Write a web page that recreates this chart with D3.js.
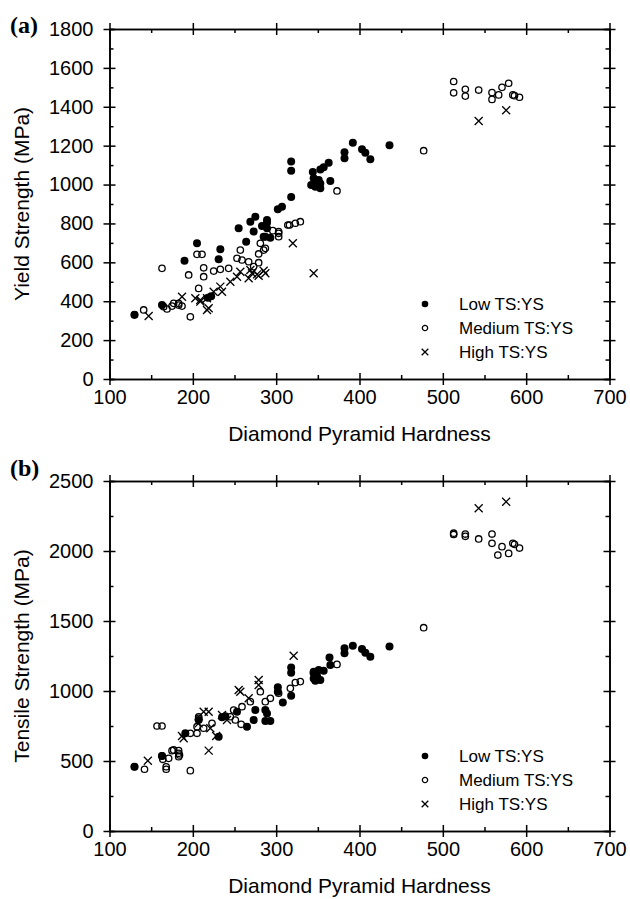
<!DOCTYPE html>
<html>
<head>
<meta charset="utf-8">
<script src="https://cdn.jsdelivr.net/npm/d3@7"></script>
<style>
body { margin: 0; background: #fff; }
text { font-family: "Liberation Sans", Arial, sans-serif; fill: #000; }
</style>
</head>
<body>
<div id="plot"></div>
<script>
// Hardness axis, shared by both panels.
var hardnessTicks = [100, 200, 300, 400, 500, 600, 700];
var hardnessMinor = [150, 250, 350, 450, 550, 650];

// Panel (a): yield strength.
var ysTicks = [0, 200, 400, 600, 800, 1000, 1200, 1400, 1600, 1800];
var ysMinor = [100, 300, 500, 700, 900, 1100, 1300, 1500, 1700];
var ysLow = [[130,330],[163,380],[190,608],[205,698],[218,418],[222,425],[231,616],[233,667],[255,775],[264,706],[269,809],[273,758],[275,835],[283,787],[285,732],[287,732],[289,818],[289,775],[289,804],[293,727],[302,873],[307,886],[318,936],[318,1071],[318,1118],[342,998],[344,1065],[345,1032],[347,989],[349,1003],[351,1023],[353,1006],[353,981],[353,1078],[357,1089],[363,1112],[365,1018],[382,1135],[382,1166],[392,1215],[403,1181],[407,1164],[413,1130],[436,1202]];
var ysMedium = [[130,330],[141,355],[165,372],[169,360],[175,375],[177,389],[183,389],[183,380],[187,375],[163,569],[197,320],[195,535],[205,641],[207,466],[211,641],[213,572],[213,526],[225,555],[233,564],[243,569],[253,621],[257,663],[259,612],[267,603],[273,578],[279,598],[279,643],[281,698],[285,663],[287,672],[296,763],[303,749],[303,732],[303,758],[314,792],[316,792],[323,801],[329,809],[373,967],[477,1174],[513,1530],[513,1472],[527,1490],[527,1455],[543,1486],[559,1473],[559,1438],[567,1461],[571,1500],[579,1521],[584,1461],[586,1457],[592,1449]];
var ysHigh = [[147,324],[187,423],[203,415],[209,398],[209,406],[217,415],[217,355],[219,364],[225,449],[233,475],[235,449],[245,500],[253,526],[257,552],[267,518],[269,561],[271,544],[277,538],[279,531],[285,557],[287,544],[320,698],[345,544],[543,1327],[576,1382]];

// Panel (b): tensile strength.
var tsTicks = [0, 500, 1000, 1500, 2000, 2500];
var tsMinor = [250, 750, 1250, 1750, 2250];
var tsLow = [[130,459],[163,536],[191,698],[207,793],[231,674],[235,812],[239,820],[253,852],[265,745],[273,793],[275,864],[287,864],[287,786],[289,840],[293,786],[302,1026],[302,995],[308,917],[318,966],[318,1131],[318,1167],[345,1126],[345,1138],[345,1090],[347,1074],[349,1107],[351,1150],[353,1079],[357,1145],[364,1240],[365,1186],[382,1305],[382,1269],[392,1324],[403,1300],[407,1274],[413,1245],[436,1317]];
var tsMedium = [[130,459],[142,441],[157,750],[163,750],[163,536],[164,512],[168,459],[168,441],[171,519],[175,574],[177,579],[183,574],[183,555],[183,531],[184,543],[197,431],[197,698],[205,698],[205,745],[207,805],[207,816],[213,734],[223,769],[245,816],[249,864],[251,793],[258,762],[259,888],[269,924],[281,995],[287,924],[293,948],[303,984],[317,1019],[323,1060],[329,1067],[373,1190],[477,1452],[513,2127],[513,2118],[527,2121],[527,2105],[543,2086],[559,2121],[559,2055],[566,1971],[571,2031],[579,1983],[584,2055],[586,2048],[592,2021]];
var tsHigh = [[146,502],[187,679],[189,662],[207,769],[213,852],[219,852],[219,574],[221,734],[228,679],[235,829],[241,793],[255,1007],[257,995],[267,948],[279,1079],[279,1043],[321,1252],[543,2305],[576,2352]];

var legendLabels = ["Low TS:YS", "Medium TS:YS", "High TS:YS"];

var svg = d3.select("#plot")
	.append("svg")
	.attr("width", 630)
	.attr("height", 899);

// Draw one marker type into a group. s = half size of the marker.
function drawMarks(g, kind, pts, x, y, s) {
	if (kind === "High") {
		g.selectAll("path.m").data(pts).enter().append("path")
			.attr("transform", function(d){ return "translate(" + x(d[0]) + "," + y(d[1]) + ")"; })
			.attr("d", "M" + (-s) + "," + (-s) + "L" + s + "," + s + "M" + (-s) + "," + s + "L" + s + "," + (-s))
			.attr("stroke", "#000")
			.attr("stroke-width", 1.3);
	} else {
		g.selectAll("circle.m").data(pts).enter().append("circle")
			.attr("cx", function(d){ return x(d[0]); })
			.attr("cy", function(d){ return y(d[1]); })
			.attr("r", kind === "Low" ? s : s * 0.8)
			.attr("fill", kind === "Low" ? "#000" : "none")
			.attr("stroke", "#000")
			.attr("stroke-width", kind === "Low" ? 0 : 1.3);
	}
}

function drawPanel(p) {
	var x = d3.scaleLinear().domain([100, 700]).range([109.5, 609.5]);
	var y = d3.scaleLinear().domain([0, p.yMax]).range([p.bottom, p.top]);
	var g = svg.append("g");
	var fmt = d3.format("d");

	// Axes on all four sides, major ticks cross the line.
	var bottom = g.append("g").attr("transform", "translate(0," + p.bottom + ")")
		.call(d3.axisBottom(x).tickValues(hardnessTicks).tickFormat(fmt).tickSize(6).tickSizeOuter(0).tickPadding(5));
	var top = g.append("g").attr("transform", "translate(0," + p.top + ")")
		.call(d3.axisTop(x).tickValues(hardnessTicks).tickSize(6).tickSizeOuter(0).tickFormat(""));
	var left = g.append("g").attr("transform", "translate(109.5,0)")
		.call(d3.axisLeft(y).tickValues(p.yTicks).tickFormat(fmt).tickSize(6).tickSizeOuter(0).tickPadding(10));
	var right = g.append("g").attr("transform", "translate(609.5,0)")
		.call(d3.axisRight(y).tickValues(p.yTicks).tickSize(6).tickSizeOuter(0).tickFormat(""));
	[bottom, top].forEach(function(a){ a.selectAll(".tick line").attr("y1", -6).attr("y2", 6); });
	[left, right].forEach(function(a){ a.selectAll(".tick line").attr("x1", -6).attr("x2", 6); });

	// Minor ticks, inward only.
	g.append("g").attr("transform", "translate(0," + p.bottom + ")")
		.call(d3.axisBottom(x).tickValues(hardnessMinor).tickSize(-4).tickFormat(""));
	g.append("g").attr("transform", "translate(0," + p.top + ")")
		.call(d3.axisTop(x).tickValues(hardnessMinor).tickSize(-4).tickFormat(""));
	g.append("g").attr("transform", "translate(109.5,0)")
		.call(d3.axisLeft(y).tickValues(p.yMinor).tickSize(-4).tickFormat(""));
	g.append("g").attr("transform", "translate(609.5,0)")
		.call(d3.axisRight(y).tickValues(p.yMinor).tickSize(-4).tickFormat(""));

	g.selectAll(".domain").attr("stroke-width", 1.6);
	g.selectAll(".tick line").attr("stroke-width", 1.5);
	g.selectAll(".tick text").style("font-size", "20px").style("font-family", "Liberation Sans, Arial, sans-serif");

	// Titles
	g.append("text")
		.attr("x", (x(100) + x(700)) / 2)
		.attr("y", p.bottom + 62)
		.style("text-anchor", "middle")
		.style("font-size", "21px")
		.text("Diamond Pyramid Hardness");
	g.append("text")
		.attr("transform", "translate(29," + ((p.top + p.bottom) / 2) + ") rotate(-90)")
		.style("text-anchor", "middle")
		.style("font-size", "21px")
		.text(p.title);
	g.append("text")
		.attr("x", 10)
		.attr("y", p.top + p.letterDy)
		.style("font-family", "Liberation Serif, Times New Roman, serif")
		.style("font-weight", "bold")
		.style("font-size", "24px")
		.text(p.letter);

	// Points
	drawMarks(g.append("g"), "Medium", p.medium, x, y, 4);
	drawMarks(g.append("g"), "Low", p.low, x, y, 4);
	drawMarks(g.append("g"), "High", p.high, x, y, 4);

	// Legend
	var kinds = ["Low", "Medium", "High"];
	kinds.forEach(function(k, i) {
		var ly = p.bottom - 75 + i * 24;
		var lg = g.append("g").attr("transform", "translate(425," + ly + ")");
		drawMarks(lg, k, [[0, 0]], function(v){ return v; }, function(v){ return v; }, 3.3);
		g.append("text")
			.attr("x", 459)
			.attr("y", ly)
			.attr("dy", "0.36em")
			.style("font-size", "17px")
			.text(legendLabels[i]);
	});
}

drawPanel({top: 29, bottom: 379, yMax: 1800, yTicks: ysTicks, yMinor: ysMinor, letterDy: 4,
	title: "Yield Strength (MPa)", letter: "(a)", low: ysLow, medium: ysMedium, high: ysHigh});
drawPanel({top: 481, bottom: 831, yMax: 2500, yTicks: tsTicks, yMinor: tsMinor, letterDy: -5,
	title: "Tensile Strength (MPa)", letter: "(b)", low: tsLow, medium: tsMedium, high: tsHigh});
</script>
</body>
</html>
